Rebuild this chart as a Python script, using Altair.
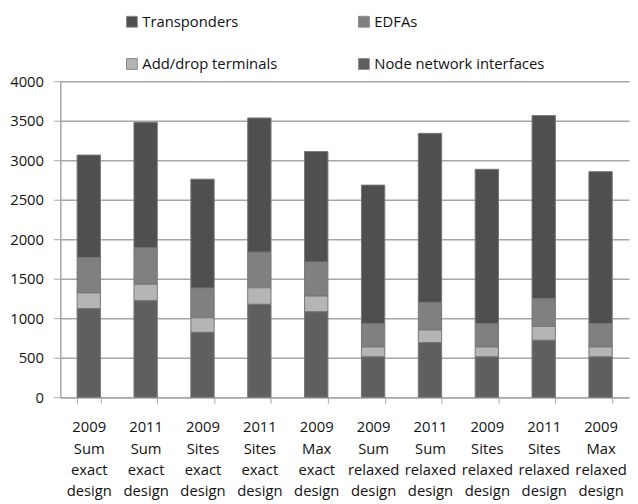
import altair as alt
import pandas as pd

categories = [
    "2009 Sum exact design", "2011 Sum exact design", "2009 Sites exact design",
    "2011 Sites exact design", "2009 Max exact design", "2009 Sum relaxed design",
    "2011 Sum relaxed design", "2009 Sites relaxed design", "2011 Sites relaxed design",
    "2009 Max relaxed design",
]
series = ["Transponders", "EDFAs", "Add/drop terminals", "Node network interfaces"]
node = [1120, 1220, 820, 1175, 1080, 510, 690, 510, 720, 510]
adddrop = [200, 210, 185, 210, 200, 125, 160, 125, 175, 125]
edfa = [445, 460, 375, 450, 430, 295, 350, 295, 350, 295]
transp = [1300, 1590, 1380, 1700, 1400, 1755, 2140, 1955, 2320, 1925]
colors = ["#4f4f4f", "#808080", "#b5b5b5", "#5f5f5f"]
y_ticks = [0, 500, 1000, 1500, 2000, 2500, 3000, 3500, 4000]

values = {
    "Transponders": transp,
    "EDFAs": edfa,
    "Add/drop terminals": adddrop,
    "Node network interfaces": node,
}
stack_order = {"Node network interfaces": 0, "Add/drop terminals": 1, "EDFAs": 2, "Transponders": 3}

rows = []
for s in series:
    for c, v in zip(categories, values[s]):
        rows.append({"category": c, "series": s, "value": v, "ord": stack_order[s]})
df = pd.DataFrame(rows)

FONT = "Open Sans"

chart = alt.Chart(df).mark_bar(stroke="#767676", strokeWidth=1).encode(
    x=alt.X(
        "category:N",
        sort=categories,
        title=None,
        scale=alt.Scale(paddingInner=0.59, paddingOuter=0.295),
        axis=alt.Axis(
            labelAngle=0,
            labelExpr="split(datum.label, ' ')",
            labelLineHeight=21.7,
            labelFontSize=15,
            labelFont=FONT,
            labelColor="#111111",
            labelPadding=17,
            labelOverlap=False,
            labelLimit=0,
            tickBand="extent",
            tickSize=6,
            tickColor="#a6a6a6",
            domainColor="#a6a6a6",
            domainWidth=1.5,
            grid=False,
        ),
    ),
    y=alt.Y(
        "value:Q",
        stack="zero",
        title=None,
        scale=alt.Scale(domain=[0, 4000], nice=False),
        axis=alt.Axis(
            values=y_ticks,
            format="d",
            labelFontSize=15,
            labelFont=FONT,
            labelColor="#111111",
            labelPadding=10,
            tickSize=7,
            tickColor="#a6a6a6",
            domainColor="#a6a6a6",
            domainWidth=1.5,
            gridColor="#a6a6a6",
            gridWidth=1.5,
        ),
    ),
    color=alt.Color(
        "series:N",
        scale=alt.Scale(domain=series, range=colors),
        legend=alt.Legend(
            title=None,
            orient="none",
            direction="horizontal",
            legendX=65,
            legendY=-68,
            columns=2,
            columnPadding=80,
            rowPadding=27,
            symbolType="square",
            symbolSize=121,
            symbolStrokeColor="#8a8a8a",
            symbolStrokeWidth=1,
            symbolOpacity=1,
            labelFontSize=15,
            labelFont=FONT,
            labelColor="#111111",
            labelOffset=3,
            labelLimit=0,
        ),
    ),
    order=alt.Order("ord:Q"),
).properties(
    width=576,
    height=320,
    autosize=alt.AutoSizeParams(type="none"),
    padding={"left": 53, "top": 71, "right": 1, "bottom": 104},
).configure_view(stroke=None)

chart.save("out.html", embed_options={"renderer": "svg", "actions": False})
